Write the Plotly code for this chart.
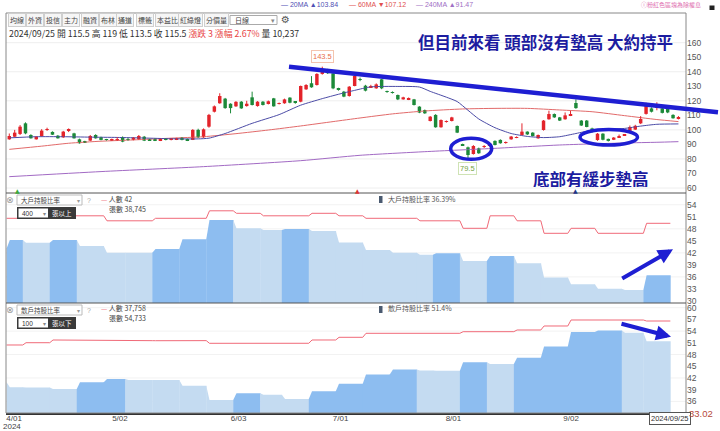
import plotly.graph_objects as go

# ---------------- data ----------------
tick_pos = [0.9, 20.5, 42.5, 61.4, 82.3, 104.1]
tick_text = ["4/01", "5/02", "6/03", "7/01", "8/01", "9/02"]
year_label = "2024"

opens = [93.5, 95.3, 97.2, 104.5, 96.5, 93.5, 95.8, 100.0, 98.6, 96.0,
         94.9, 99.8, 97.6, 93.5, 91.9, 92.6, 96.5, 94.9, 93.2, 92.9,
         93.0, 94.9, 93.5, 93.1, 93.5, 95.3, 93.2, 93.5, 92.6, 93.8,
         93.1, 93.6, 94.7, 93.5, 93.1, 100.0, 94.9, 102.2, 112.5, 118.3,
         121.5, 118.0, 116.2, 119.4, 116.4, 122.4, 116.4, 119.4, 117.8, 121.7,
         118.0, 118.3, 122.2, 119.3, 119.4, 127.9, 132.1, 130.9, 138.5, 141.0,
         138.9, 128.2, 126.3, 123.3, 130.2, 135.0, 130.4, 129.5, 128.6, 134.8,
         126.5, 125.8, 124.0, 121.0, 120.6, 121.0, 116.0, 113.7, 106.1, 110.3,
         101.8, 105.5, 106.1, 102.7, 89.8, 88.0, 83.4, 87.3, 88.3, 89.5,
         92.4, 93.1, 91.0, 93.5, 94.7, 96.5, 98.8, 98.1, 94.2, 99.9,
         107.3, 110.9, 108.6, 107.3, 110.0, 118.5, 106.4, 106.4, 101.0, 93.0,
         97.4, 93.8, 93.2, 95.0, 96.2, 98.5, 100.2, 104.5, 111.0, 114.8,
         115.5, 114.8, 114.8, 110.3, 107.5]
highs = [97.5, 100.0, 103.3, 105.2, 97.0, 95.6, 100.5, 101.5, 99.0, 96.5,
         99.3, 101.0, 98.0, 94.0, 92.5, 96.5, 97.0, 95.3, 93.8, 94.0,
         95.0, 95.5, 94.5, 95.0, 96.5, 95.8, 93.8, 94.0, 94.0, 94.2,
         94.2, 94.5, 95.0, 94.0, 100.5, 100.8, 101.0, 111.0, 116.8, 125.2,
         122.0, 118.3, 119.8, 119.8, 120.0, 126.3, 119.8, 119.8, 120.2, 122.0,
         118.8, 121.5, 122.5, 119.5, 130.5, 131.5, 137.0, 139.0, 143.5, 142.0,
         139.5, 129.0, 126.8, 130.2, 137.5, 136.0, 131.0, 131.0, 132.0, 135.0,
         127.0, 126.5, 124.3, 122.8, 122.3, 121.3, 116.3, 114.0, 109.5, 110.8,
         107.2, 106.5, 109.0, 103.0, 90.5, 88.5, 89.5, 87.8, 89.5, 91.5,
         92.8, 93.5, 92.0, 95.8, 95.5, 104.5, 99.0, 98.4, 96.8, 106.8,
         113.2, 111.3, 108.9, 112.0, 113.0, 121.0, 106.8, 106.8, 101.5, 97.8,
         97.7, 94.0, 95.0, 96.8, 97.0, 103.0, 103.5, 109.5, 118.7, 115.5,
         119.0, 115.5, 116.0, 110.8, 109.5]
lows = [93.2, 95.0, 96.5, 97.0, 94.0, 93.3, 95.5, 99.3, 96.5, 94.0,
        94.5, 98.5, 94.0, 90.5, 91.0, 92.3, 94.0, 92.8, 92.6, 92.5,
        92.5, 91.5, 92.6, 92.8, 93.3, 92.3, 92.6, 92.3, 92.3, 92.8,
        92.8, 93.0, 92.8, 92.3, 93.0, 94.5, 94.5, 101.5, 112.0, 118.0,
        114.5, 111.4, 115.8, 114.5, 116.0, 116.8, 116.0, 116.8, 117.5, 116.0,
        117.5, 118.0, 118.3, 118.0, 119.0, 127.5, 129.0, 130.5, 138.0, 138.5,
        128.0, 127.0, 122.5, 122.9, 130.0, 133.5, 126.5, 129.0, 128.3, 128.0,
        125.5, 125.0, 120.5, 120.8, 120.5, 116.8, 111.5, 111.0, 105.8, 101.5,
        101.5, 105.0, 105.8, 97.8, 89.0, 79.5, 83.0, 83.5, 87.5, 89.0,
        89.3, 90.5, 90.5, 93.2, 94.3, 96.2, 96.5, 95.5, 93.9, 99.5,
        107.0, 108.3, 106.1, 107.0, 109.5, 114.5, 102.7, 101.8, 98.2, 92.5,
        92.8, 92.0, 93.0, 94.8, 95.8, 98.2, 100.0, 104.0, 110.5, 112.0,
        113.5, 111.3, 111.5, 107.7, 107.2]
closes = [95.8, 98.1, 102.2, 97.6, 94.2, 95.3, 99.5, 100.4, 96.7, 94.2,
          98.8, 100.2, 94.2, 90.8, 91.2, 95.8, 94.2, 93.1, 93.1, 93.3,
          93.6, 91.9, 93.1, 94.7, 95.8, 92.6, 93.0, 92.6, 93.5, 93.1,
          93.8, 93.8, 93.1, 92.6, 100.0, 94.9, 100.4, 110.3, 116.2, 123.3,
          115.0, 115.0, 119.3, 114.8, 118.0, 117.1, 119.4, 117.1, 119.7, 116.2,
          118.2, 121.0, 118.7, 118.7, 130.2, 130.9, 129.3, 138.5, 140.0, 139.0,
          128.6, 127.8, 122.9, 129.7, 137.1, 134.5, 127.0, 130.0, 131.3, 128.6,
          126.2, 125.5, 121.0, 122.4, 121.7, 117.1, 111.9, 111.4, 109.1, 101.8,
          106.8, 105.9, 108.6, 98.1, 89.4, 82.7, 88.9, 83.9, 88.8, 90.5,
          89.6, 90.8, 91.5, 95.4, 95.1, 98.8, 96.9, 95.8, 96.5, 106.4,
          110.9, 108.6, 106.4, 110.0, 110.5, 115.0, 103.0, 102.0, 98.5, 97.4,
          93.2, 92.4, 94.7, 95.8, 96.6, 102.0, 102.8, 107.5, 117.1, 112.5,
          115.5, 111.7, 112.0, 108.0, 108.6]

# moving averages at sample days
ma20_day = [0, 5, 10, 15, 20, 25, 30, 35, 37, 40, 45, 50, 54, 58, 61, 64, 67, 72, 76,
            78, 81, 83, 85, 87, 90, 93, 96, 99, 102, 105, 108, 111, 114, 117, 120, 124]
ma20_val = [94.5, 95.3, 95.3, 95.0, 94.8, 94.4, 93.9, 93.8, 94.3, 97.5, 104.5, 110.5,
            117.0, 121.5, 124.5, 127.2, 129.6, 129.9, 129.5, 126.5, 122.5, 119.5, 113.5,
            107.5, 101.5, 97.5, 95.5, 94.7, 95.3, 97.5, 99.8, 100.4, 101.0, 102.6, 103.84, 104.1]
ma60_day = [0, 6, 11, 17, 23, 30, 36, 42, 48, 54, 60, 65, 71, 77, 84, 90, 96, 102, 108, 114, 120, 124]
ma60_val = [86.6, 88.8, 90.8, 92.2, 93.1, 94.3, 95.3, 97.4, 99.9, 102.7, 105.7, 108.2,
            111.0, 113.0, 114.4, 114.8, 114.8, 113.7, 112.5, 109.8, 107.12, 105.7]
ma240_day = [0, 17, 36, 54, 65, 77, 90, 102, 114, 120, 124]
ma240_val = [67.8, 71.3, 74.7, 78.8, 82.5, 85.0, 87.3, 89.6, 91.0, 91.47, 91.9]

# weekly shareholding data
week_first = [0, 3, 8, 13, 18, 22, 27, 32, 37, 42, 47, 51, 56, 61, 66, 71, 76, 79, 84, 89, 94, 99, 104, 109, 114, 118]
week_last = [2, 7, 12, 17, 21, 26, 31, 36, 41, 46, 50, 55, 60, 65, 70, 75, 78, 83, 88, 93, 98, 103, 108, 113, 117, 122]
big_ratio_prev = 43.1
big_ratio = [45.21, 44.55, 45.23, 43.72, 42.06, 42.03, 42.97, 45.38, 50.18, 48.11, 47.68, 47.94, 47.46,
             44.58, 42.71, 42.05, 41.52, 41.93, 39.98, 41.21, 39.42, 35.83, 34.17, 33.04, 32.76, 36.39]
big_holders = [44, 44, 45, 45, 43, 43, 44, 44, 47, 46, 45, 45, 46, 45, 44, 44, 43, 43, 40, 45, 43, 38, 40, 38, 38, 42]
small_ratio_prev = 40.9
small_ratio = [39.61, 39.58, 39.2, 40.9, 41.75, 41.5, 41.46, 40.0, 36.35, 38.07, 37.7, 36.6, 38.6,
               40.5, 42.87, 44.15, 43.9, 43.86, 46.04, 45.6, 47.15, 50.06, 53.75, 54.18, 53.6, 51.4]
small_holders = [31760, 32330, 33010, 33020, 33000, 32840, 32830, 32850, 32180, 32330, 32340, 32190, 33010,
                 33680, 34680, 34690, 34700, 34680, 35080, 35090, 35510, 36510, 38010, 38020, 38000, 37758]

# ---------------- layout helpers ----------------
W, H = 720, 431
ML, MR, MT, MB = 6, 34, 13, 18
PW, PH = W - ML - MR, H - MT - MB
FONT = "Liberation Sans, Noto Sans CJK TC, sans-serif"
CJK = "Noto Sans CJK TC, sans-serif"
XR = [-0.61, 125.4]


def px_x(px):
    return (px - ML) / PW


def px_y(py):
    return (H - MB - py) / PH


RED, GREEN = "#e3242b", "#1d8a3a"
DARK, LIGHT = "#8dbdf0", "#c4dbf1"
BLUE = "#1e1ed2"
NAVY = "#1c1ca0"

fig = go.Figure()

# ---- moving averages ----
for d, v, c in [(ma240_day, ma240_val, "#a26ac4"), (ma60_day, ma60_val, "#e26a6a"), (ma20_day, ma20_val, "#4b4ba6")]:
    fig.add_trace(go.Scatter(x=d, y=v, mode="lines", line=dict(color=c, width=1, shape="spline", smoothing=0.6),
                             xaxis="x", yaxis="y", hoverinfo="skip"))

# ---- candles ----
days = list(range(len(opens)))
body_base, body_h, body_col = [], [], []
wick = {RED: ([], []), GREEN: ([], [])}
prev_close = None
for i, (o, h, l, c) in enumerate(zip(opens, highs, lows, closes)):
    if c > o:
        col = RED
    elif c < o:
        col = GREEN
    else:
        col = RED if (prev_close is None or c >= prev_close) else GREEN
    prev_close = c
    body_base.append(min(o, c))
    body_h.append(max(abs(c - o), 0.35))
    body_col.append(col)
    wick[col][0].extend([i, i, None])
    wick[col][1].extend([l, h, None])
for col, (wx, wy) in wick.items():
    fig.add_trace(go.Scatter(x=wx, y=wy, mode="lines", line=dict(color=col, width=1),
                             xaxis="x", yaxis="y", hoverinfo="skip"))
fig.add_trace(go.Bar(x=days, y=body_h, base=body_base, width=0.64,
                     marker=dict(color=body_col, line=dict(width=0)), xaxis="x", yaxis="y", hoverinfo="skip"))


# ---- weekly panels ----
def add_weekly(ratios, prev, xa, ya):
    p = prev
    for s, e, v in zip(week_first, week_last, ratios):
        col = DARK if v >= p else LIGHT
        fig.add_trace(go.Scatter(x=[s - 0.5, s - 0.5, s + 0.1, e + 0.56, e + 0.56], y=[0, p, v, v, 0],
                                 fill="toself", fillcolor=col, mode="none", xaxis=xa, yaxis=ya, hoverinfo="skip"))
        p = v


def add_holders(vals, xa, ya):
    xs, ys = [], []
    for s, e, v in zip(week_first, week_last, vals):
        xs += [s + 0.1 if xs else s - 0.5, e + 0.5]
        ys += [v, v]
    fig.add_trace(go.Scatter(x=xs, y=ys, mode="lines", line=dict(color="#f06a78", width=1),
                             xaxis=xa, yaxis=ya, hoverinfo="skip"))


add_weekly(big_ratio, big_ratio_prev, "x2", "y2")
add_holders(big_holders, "x2", "y4")
add_weekly(small_ratio, small_ratio_prev, "x3", "y3")
add_holders(small_holders, "x3", "y5")

# ---------------- axes ----------------
tickfont = dict(size=8.5, color="#555", family=FONT)
xcommon = dict(range=XR, showgrid=False, zeroline=False, ticks="", fixedrange=True, automargin=False)
ycommon = dict(side="right", showgrid=False, zeroline=False, ticks="", tickfont=tickfont, fixedrange=True,
               automargin=False)

fig.update_layout(
    width=W, height=H, margin=dict(l=ML, r=MR, t=MT, b=MB, autoexpand=False),
    paper_bgcolor="white", plot_bgcolor="white", showlegend=False,
    xaxis=dict(domain=[0, 1], anchor="y", showticklabels=False, rangeslider=dict(visible=False), **xcommon),
    xaxis2=dict(domain=[0, 1], anchor="y2", showticklabels=False, matches="x", **xcommon),
    xaxis3=dict(domain=[0, 1], anchor="y3", matches="x", tickvals=tick_pos, ticktext=tick_text,
                tickfont=dict(size=8, color="#444", family=FONT), showline=True, linecolor="#333",
                linewidth=1.5, ticklabelstandoff=-3, **xcommon),
    yaxis=dict(domain=[0.55, 1], anchor="x", range=[56.56, 180.44], tickvals=list(range(60, 161, 10)), **ycommon),
    yaxis2=dict(domain=[0.275, 0.55], anchor="x2", range=[29.5, 56.93], tickvals=list(range(30, 55, 3)), **ycommon),
    yaxis3=dict(domain=[0, 0.275], anchor="x3", range=[33.02, 61.2], tickvals=list(range(36, 61, 3)), **ycommon),
    yaxis4=dict(overlaying="y2", anchor="x2", side="right", range=[10.12, 54.12], visible=False,
                fixedrange=True, automargin=False),
    yaxis5=dict(overlaying="y3", anchor="x3", side="right", range=[14758, 42258], visible=False,
                fixedrange=True, automargin=False),
)

# ---------------- shapes ----------------
shapes = []
for g in range(60, 161, 20):
    shapes.append(dict(type="line", xref="paper", x0=0, x1=1, yref="y", y0=g, y1=g,
                       line=dict(color="#eeeeee", width=1), layer="below"))
for ref, vals in [("y2", [36, 42, 48, 54]), ("y3", [36, 42, 48, 54, 60])]:
    for g in vals:
        shapes.append(dict(type="line", xref="paper", x0=0, x1=1, yref=ref, y0=g, y1=g,
                           line=dict(color="#f2f2f2", width=1), layer="below"))
shapes.append(dict(type="rect", xref="paper", yref="paper", x0=0, x1=1, y0=0, y1=1, line=dict(color="#888", width=1)))
for yy in [0.55, 0.275]:
    shapes.append(dict(type="line", xref="paper", yref="paper", x0=0, x1=1, y0=yy, y1=yy, line=dict(color="#555", width=1)))

# panel header boxes
for dy in [0, 110]:
    shapes.append(dict(type="rect", xref="paper", yref="paper", x0=px_x(17), x1=px_x(82), y0=px_y(205 + dy),
                       y1=px_y(195 + dy), line=dict(color="#bbb", width=1), fillcolor="white"))
    shapes.append(dict(type="rect", xref="paper", yref="paper", x0=px_x(17), x1=px_x(76), y0=px_y(219 + dy),
                       y1=px_y(207 + dy), line=dict(width=0), fillcolor="#3a3a3a"))
    shapes.append(dict(type="rect", xref="paper", yref="paper", x0=px_x(18.5), x1=px_x(48), y0=px_y(217.5 + dy),
                       y1=px_y(208.5 + dy), line=dict(width=0), fillcolor="white"))
    shapes.append(dict(type="rect", xref="paper", yref="paper", x0=px_x(379), x1=px_x(382.5), y0=px_y(203 + dy),
                       y1=px_y(196 + dy), line=dict(width=0), fillcolor="#4a5a70"))
# dropdown on toolbar
shapes.append(dict(type="rect", xref="paper", yref="paper", x0=px_x(230), x1=px_x(277), y0=px_y(24.5),
                   y1=px_y(15.5), line=dict(color="#aaa", width=1), fillcolor="white"))
# lock icon
shapes.append(dict(type="rect", xref="paper", yref="paper", x0=px_x(709.5), x1=px_x(714.5), y0=px_y(10),
                   y1=px_y(5.5), line=dict(width=0), fillcolor="#222"))

# hand drawings
shapes.append(dict(type="line", xref="paper", yref="paper", x0=px_x(289), y0=px_y(66.7), x1=px_x(718),
                   y1=px_y(112.3), line=dict(color=BLUE, width=4.5)))
shapes.append(dict(type="circle", xref="paper", yref="paper", x0=px_x(450.7), x1=px_x(491.7), y0=px_y(159.3),
                   y1=px_y(138.3), line=dict(color=BLUE, width=3.5)))
shapes.append(dict(type="circle", xref="paper", yref="paper", x0=px_x(580), x1=px_x(637.5), y0=px_y(145),
                   y1=px_y(129.5), line=dict(color=BLUE, width=3.5)))

fig.update_layout(shapes=shapes)


# ---------------- annotations ----------------
def T(px, py, text, size=7, color="#444", xanchor="left", family=CJK, weight="normal", **kw):
    return dict(x=px_x(px), y=px_y(py), xref="paper", yref="paper", text=text, showarrow=False,
                xanchor=xanchor, yanchor="middle", font=dict(size=size, color=color, family=family, weight=weight),
                **kw)


ann = []
# top legend
ann.append(T(279, 5, "— 20MA ▲103.84", 7, "#5050b4", family=FONT))
ann.append(T(347, 5, "— 60MA ▼107.12", 7, "#e04f4f", family=FONT))
ann.append(T(414, 5, "— 240MA ▲91.47", 7, "#a070c4", family=FONT))
ann.append(T(639, 5, "ⓘ粉紅色區塊為除權息", 6, "#e070b0"))

# toolbar buttons
buttons = ["均線", "外資", "投信", "主力", "融資", "布林", "通道", "標籤", "本益比", "紅綠燈", "分價量"]
bx = [16.5, 34.5, 52.5, 70.5, 89.5, 107.5, 125.5, 144.5, 167, 191, 216]
for b, x in zip(buttons, bx):
    ann.append(T(x, 20, b, 7, "#444", xanchor="center", bordercolor="#cfcfcf", borderwidth=1, borderpad=1,
                 bgcolor="#f6f6f6"))
ann.append(T(233, 20, "日線", 7, "#444"))
ann.append(T(273, 20, "▾", 7, "#888", xanchor="center"))
ann.append(T(285, 19.5, "⚙", 10, "#555", xanchor="center", family="DejaVu Sans"))

# quote row
ann.append(T(7, 33, "2024/09/25 開 115.5 高 119 低 113.5 收 115.5 "
                   "<span style='color:#e84343'>漲跌 3 漲幅 2.67%</span> 量 10,237", 8.8, "#333"))

# panel headers
for dy, name, unit, num, hold, cnt, ratio in [
        (0, "大戶持股比率", "400", "張以上", "人數 42", "張數 38,745", "大戶持股比率 36.39%"),
        (110, "散戶持股比率", "100", "張以下", "人數 37,758", "張數 54,733", "散戶持股比率 51.4%")]:
    ann.append(T(10, 200 + dy, "⊗", 9, "#999", xanchor="center", family="DejaVu Sans"))
    ann.append(T(19, 200 + dy, name, 6.5, "#444"))
    ann.append(T(78, 200 + dy, "▾", 6, "#999", xanchor="center"))
    ann.append(T(89, 200 + dy, "?", 7, "#aaa", xanchor="center", family=FONT))
    ann.append(T(20, 213 + dy, unit, 6.5, "#333", family=FONT))
    ann.append(T(44.5, 213 + dy, "▾", 6, "#888", xanchor="center"))
    ann.append(T(50, 213 + dy, num, 6.5, "white"))
    ann.append(T(99, 199 + dy - (1 if dy else 0), "<span style='color:#f06a78'>—</span> " + hold, 7, "#444"))
    ann.append(T(107, 209 + dy - (1 if dy else 0), cnt, 7, "#444"))
    ann.append(T(386, 199 + dy - (1 if dy else 0), ratio, 7, "#555"))

# event markers
ann.append(T(17, 190.5, "▲", 6, "#3aaa3a", xanchor="center", family="DejaVu Sans"))
ann.append(T(357.5, 190.5, "▲", 6, "#dd3333", xanchor="center", family="DejaVu Sans"))
ann.append(T(575.5, 191, "▲", 6, "#223388", xanchor="center", family="DejaVu Sans"))

# year under first tick
ann.append(T(12, 427, year_label, 8, "#444", xanchor="center", family=FONT))

# high / low labels
hi_i = max(days, key=lambda k: highs[k])
lo_i = min(days, key=lambda k: lows[k])
ann.append(dict(x=hi_i, y=highs[hi_i], xref="x", yref="y", text=f"{highs[hi_i]:g}", showarrow=False, yshift=10,
                font=dict(size=7.5, color="#e8704a", family=FONT), bordercolor="#f4c4ae", borderwidth=1,
                borderpad=1, bgcolor="white"))
ann.append(dict(x=lo_i, y=lows[lo_i], xref="x", yref="y", text=f"{lows[lo_i]:g}", showarrow=False, yshift=-8.5,
                font=dict(size=7.5, color="#74a444", family=FONT), bordercolor="#cfe3b5", borderwidth=1,
                borderpad=1, bgcolor="white"))

# commentary
ann.append(T(545, 42.5, "但目前來看 頭部沒有墊高 大約持平", 16.5, NAVY, xanchor="center", weight="bold"))
ann.append(T(590.5, 178.5, "底部有緩步墊高", 16.5, NAVY, xanchor="center", weight="bold", height=17))

# arrows
ann.append(dict(x=px_x(673), y=px_y(249.3), xref="paper", yref="paper", ax=-52.3, ay=30, text="",
                showarrow=True, arrowhead=2, arrowsize=0.75, arrowwidth=4, arrowcolor=BLUE, standoff=0))
ann.append(dict(x=px_x(671), y=px_y(336.7), xref="paper", yref="paper", ax=-51, ay=-13.4, text="",
                showarrow=True, arrowhead=2, arrowsize=0.75, arrowwidth=4, arrowcolor=BLUE, standoff=0))

# crosshair labels
ann.append(T(669.5, 418, "2024/09/25", 7.5, "#333", xanchor="center", family=FONT, bordercolor="#555",
             borderwidth=1, borderpad=1, bgcolor="white"))
ann.append(T(701, 413, "33.02", 9.5, "#b5493b", xanchor="center", family=FONT))

fig.update_layout(annotations=ann)

fig.write_html("out.html", config={"displayModeBar": False},
               post_script="document.body.style.margin='0px';document.body.style.overflow='hidden';")
